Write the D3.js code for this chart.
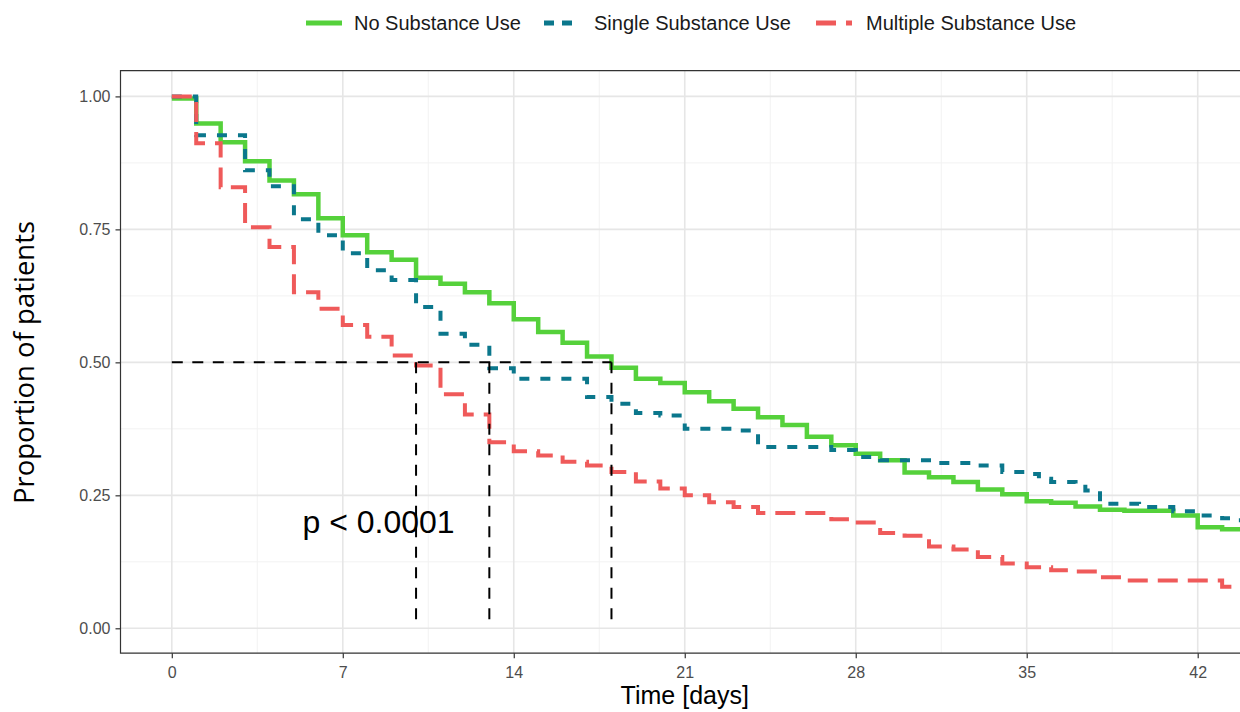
<!DOCTYPE html>
<html>
<head>
<meta charset="utf-8">
<script src="https://cdn.jsdelivr.net/npm/d3@7"></script>
<style>
  html, body { margin: 0; padding: 0; background: #ffffff; overflow: hidden; }
  svg { display: block; }
</style>
</head>
<body>
<svg id="chart" width="1240" height="712"></svg>
<script>
// ---------------- DATA ----------------
const seriesNames = ["No Substance Use", "Single Substance Use", "Multiple Substance Use"];

const noUseTime = [0,1,2,3,4,5,6,7,8,9,10,11,12,13,14,15,16,17,18,19,20,21,22,23,24,25,26,27,28,29,30,31,32,33,34,35,36,37,38,39,40,41,42,43,45];
const noUseSurv = [0.996,0.949,0.914,0.878,0.842,0.816,0.771,0.739,0.707,0.693,0.659,0.648,0.632,0.611,0.581,0.557,0.537,0.511,0.490,0.469,0.461,0.444,0.427,0.413,0.397,0.382,0.360,0.344,0.328,0.316,0.293,0.284,0.275,0.261,0.252,0.239,0.236,0.229,0.223,0.221,0.221,0.212,0.190,0.186,0.186];

const singleTime = [0,1,3,4,5,6,7,8,9,10,11,12,13,14,17,18,19,20,21,23,24,27,28,29,31,33,34,35,35.5,36,37,37.4,38,39.6,41,42,43,43.6,45];
const singleSurv = [1,0.927,0.861,0.831,0.769,0.739,0.705,0.673,0.655,0.604,0.554,0.533,0.489,0.469,0.435,0.422,0.405,0.400,0.375,0.372,0.341,0.335,0.322,0.316,0.311,0.306,0.294,0.290,0.281,0.275,0.271,0.259,0.234,0.228,0.220,0.212,0.207,0.203,0.203];

const multiTime = [0,1,2,3,4,5,6,7,8,9,10,11,12,13,14,15,16,17,18,19,20,21,22,23,24,27,28,29,30,31,32,33,34,35,36,37,38,39,43,45];
const multiSurv = [1,0.912,0.829,0.754,0.717,0.632,0.601,0.570,0.548,0.513,0.494,0.440,0.402,0.350,0.333,0.325,0.313,0.306,0.294,0.276,0.263,0.250,0.237,0.228,0.217,0.205,0.199,0.179,0.174,0.154,0.148,0.134,0.122,0.115,0.109,0.107,0.096,0.090,0.078,0.078];

const medianTimes = [10, 13, 18];
const medianLevel = 0.5;

const xTicks = [0, 7, 14, 21, 28, 35, 42];
const xMinorTicks = [3.5, 10.5, 17.5, 24.5, 31.5, 38.5];
const yTicks = [0, 0.25, 0.5, 0.75, 1];
const yTickLabels = ["0.00", "0.25", "0.50", "0.75", "1.00"];
const yMinorTicks = [0.125, 0.375, 0.625, 0.875];

const pValueText = "p < 0.0001";
const xTitle = "Time [days]";
const yTitle = "Proportion of patients";

// ---------------- STYLE ----------------
const colors = ["#55D13B", "#0B778C", "#EF5A5A"];
const dashes = [null, "10,11", "20,10"];
const widths = [4.5, 4, 4];

// ---------------- LAYOUT ----------------
const panel = { left: 120.5, top: 70.7, right: 1249, bottom: 653.2 };

const x = d3.scaleLinear().domain([-2.1, 44.1]).range([panel.left, panel.right]);
const y = d3.scaleLinear().domain([0, 1]).range([628.3, 96.4]);

const svg = d3.select("#chart");

svg.append("defs").append("clipPath").attr("id", "clip")
  .append("rect")
  .attr("x", panel.left).attr("y", panel.top)
  .attr("width", panel.right - panel.left).attr("height", panel.bottom - panel.top);

svg.append("rect")
  .attr("x", panel.left).attr("y", panel.top)
  .attr("width", panel.right - panel.left).attr("height", panel.bottom - panel.top)
  .attr("fill", "#ffffff");

const grid = svg.append("g").attr("clip-path", "url(#clip)");

grid.selectAll(".xminor").data(xMinorTicks).join("line")
  .attr("x1", d => x(d)).attr("x2", d => x(d))
  .attr("y1", panel.top).attr("y2", panel.bottom)
  .attr("stroke", "#f2f2f2").attr("stroke-width", 1);
grid.selectAll(".yminor").data(yMinorTicks).join("line")
  .attr("y1", d => y(d)).attr("y2", d => y(d))
  .attr("x1", panel.left).attr("x2", panel.right)
  .attr("stroke", "#f2f2f2").attr("stroke-width", 1);
grid.selectAll(".xmajor").data(xTicks).join("line")
  .attr("x1", d => x(d)).attr("x2", d => x(d))
  .attr("y1", panel.top).attr("y2", panel.bottom)
  .attr("stroke", "#e6e6e6").attr("stroke-width", 1.6);
grid.selectAll(".ymajor").data(yTicks).join("line")
  .attr("y1", d => y(d)).attr("y2", d => y(d))
  .attr("x1", panel.left).attr("x2", panel.right)
  .attr("stroke", "#e6e6e6").attr("stroke-width", 1.6);

// ---------------- CURVES ----------------
const series = [
  { name: seriesNames[0], t: noUseTime, s: noUseSurv },
  { name: seriesNames[1], t: singleTime, s: singleSurv },
  { name: seriesNames[2], t: multiTime, s: multiSurv }
];

const line = d3.line().x(d => x(d[0])).y(d => y(d[1])).curve(d3.curveStepAfter);

const curves = svg.append("g").attr("clip-path", "url(#clip)");
series.forEach((sr, i) => {
  const pts = sr.t.map((t, k) => [t, sr.s[k]]);
  curves.append("path")
    .attr("d", line(pts))
    .attr("fill", "none")
    .attr("stroke", colors[i])
    .attr("stroke-width", widths[i])
    .attr("stroke-dasharray", dashes[i])
    .attr("stroke-linejoin", "miter")
    .attr("stroke-linecap", "butt");
});

// ---------------- MEDIAN LINES ----------------
const med = svg.append("g").attr("clip-path", "url(#clip)");
med.append("line")
  .attr("x1", x(0)).attr("x2", x(d3.max(medianTimes)))
  .attr("y1", y(medianLevel)).attr("y2", y(medianLevel))
  .attr("stroke", "#000").attr("stroke-width", 2).attr("stroke-dasharray", "11,9.5");
med.selectAll(".vmed").data(medianTimes).join("line")
  .attr("x1", d => x(d)).attr("x2", d => x(d))
  .attr("y1", y(medianLevel)).attr("y2", y(0))
  .attr("stroke", "#000").attr("stroke-width", 2).attr("stroke-dasharray", "11,9.5");

svg.append("text")
  .attr("x", x(5.35)).attr("y", y(0.2) + 11)
  .attr("font-family", "Liberation Sans, Arial, sans-serif")
  .attr("font-size", 32)
  .attr("fill", "#000")
  .text(pValueText);

// ---------------- PANEL BORDER ----------------
svg.append("path")
  .attr("d", `M${panel.right},${panel.top}H${panel.left}V${panel.bottom}H${panel.right}`)
  .attr("fill", "none").attr("stroke", "#333333").attr("stroke-width", 1.2);

// ---------------- AXES ----------------
const xAxis = svg.append("g").attr("transform", `translate(0,${panel.bottom})`)
  .call(d3.axisBottom(x).tickValues(xTicks).tickSize(5).tickPadding(8).tickFormat(d3.format("d")));
xAxis.select(".domain").remove();
xAxis.selectAll(".tick line").attr("stroke", "#333333").attr("stroke-width", 1.2);
xAxis.selectAll(".tick text")
  .attr("font-family", "Liberation Sans, Arial, sans-serif")
  .attr("font-size", 16).attr("fill", "#4d4d4d");

const yAxis = svg.append("g").attr("transform", `translate(${panel.left},0)`)
  .call(d3.axisLeft(y).tickValues(yTicks).tickSize(5).tickPadding(5)
    .tickFormat((d, i) => yTickLabels[i]));
yAxis.select(".domain").remove();
yAxis.selectAll(".tick line").attr("stroke", "#333333").attr("stroke-width", 1.2);
yAxis.selectAll(".tick text")
  .attr("font-family", "Liberation Sans, Arial, sans-serif")
  .attr("font-size", 16).attr("fill", "#4d4d4d");

svg.append("text")
  .attr("x", x(21)).attr("y", 704)
  .attr("text-anchor", "middle")
  .attr("font-family", "Liberation Sans, Arial, sans-serif")
  .attr("font-size", 25).attr("fill", "#000")
  .text(xTitle);

svg.append("text")
  .attr("transform", `translate(34,${(220 + 505) / 2}) rotate(-90)`)
  .attr("text-anchor", "middle")
  .attr("font-family", "Open Sans, Noto Sans, sans-serif")
  .attr("font-size", 27.5).attr("fill", "#000")
  .text(yTitle);

// ---------------- LEGEND ----------------
const legendItems = [
  { keyX: 306, textX: 354 },
  { keyX: 544, textX: 594 },
  { keyX: 816, textX: 866 }
];
const legend = svg.append("g");
series.forEach((sr, i) => {
  const it = legendItems[i];
  legend.append("line")
    .attr("x1", it.keyX).attr("x2", it.keyX + 36)
    .attr("y1", 23).attr("y2", 23)
    .attr("stroke", colors[i]).attr("stroke-width", 5)
    .attr("stroke-dasharray", i === 1 ? "10,8" : (i === 2 ? "20,10" : null));
  legend.append("text")
    .attr("x", it.textX).attr("y", 30)
    .attr("font-family", "Liberation Sans, Arial, sans-serif")
    .attr("font-size", 20).attr("fill", "#1a1a1a")
    .text(sr.name);
});
</script>
</body>
</html>
